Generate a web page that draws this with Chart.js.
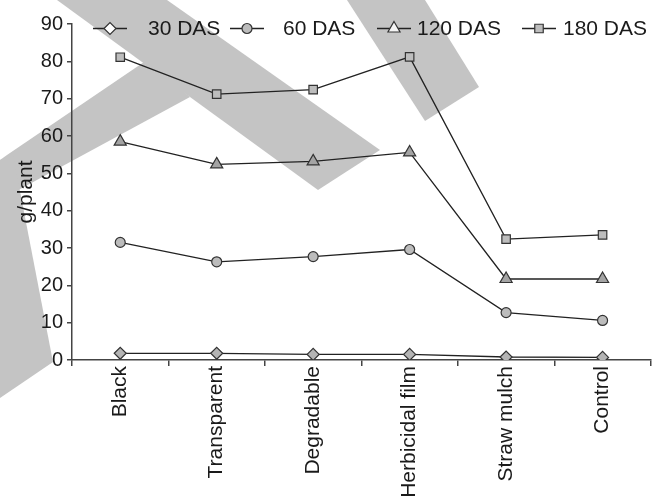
<!DOCTYPE html>
<html>
<head>
<meta charset="utf-8">
<script src="https://cdn.jsdelivr.net/npm/chart.js@4/dist/chart.umd.min.js"></script>
<style>
  html, body { margin: 0; padding: 0; background: #fff; }
  canvas { display: block; }
</style>
</head>
<body>
<canvas id="chart" width="659" height="502"></canvas>
<script>
// ── Data ─────────────────────────────────────────────────────────
const categories = ["Black", "Transparent", "Degradable", "Herbicidal film", "Straw mulch", "Control"];
const seriesNames = ["30 DAS", "60 DAS", "120 DAS", "180 DAS"];
const das30  = [1.8, 1.8, 1.5, 1.5, 0.8, 0.7];
const das60  = [31.5, 26.3, 27.7, 29.6, 12.7, 10.6];
const das120 = [58.5, 52.4, 53.2, 55.6, 21.7, 21.7];
const das180 = [81.1, 71.2, 72.4, 81.2, 32.4, 33.5];
const yTicks = [0, 10, 20, 30, 40, 50, 60, 70, 80, 90];

// ── Styles ───────────────────────────────────────────────────────
const LINE_COLOR = "#222";
const AXIS_COLOR = "#444";
const TEXT_COLOR = "#1a1a1a";
const BAND_COLOR = "#c4c4c4";
const FONT = "Liberation Sans, Arial, sans-serif";

// legendFill: the key markers are drawn lighter than the data markers
const markers = [
    { style: "rectRot",  radius: 6, fill: "#b4b4b4", legendFill: "#fff" },
    { style: "circle",   radius: 5, fill: "#bcbcbc", legendFill: "#bcbcbc" },
    { style: "triangle", radius: 7, fill: "#a4a4a4", legendFill: "#f4f4f4" },
    { style: "rect",     radius: 6, fill: "#bdbdbd", legendFill: "#bdbdbd" },
];

function makeDataset(i, values) {
    const m = markers[i];
    return {
        label: seriesNames[i],
        data: values,
        borderColor: LINE_COLOR,
        borderWidth: 1.3,
        pointStyle: m.style,
        pointRadius: m.radius,
        pointBackgroundColor: m.fill,
        pointBorderColor: "#333",
        pointBorderWidth: 1.2,
        tension: 0,
        fill: false,
    };
}

// ── Gray background bands (decoration) ───────────────────────────
const bands = [
    [[57, 0], [167, 0], [380, 150], [318, 190], [190, 97]],
    [[147, 60], [190, 97], [0, 200], [0, 160], [7, 155]],
    [[0, 160], [13, 155], [53, 362], [0, 398]],
    [[347, 0], [425, 0], [479, 87], [425, 121]],
];

const bandsPlugin = {
    id: "bands",
    beforeDraw(chart) {
        const ctx = chart.ctx;
        ctx.save();
        ctx.fillStyle = "#fff";
        ctx.fillRect(0, 0, chart.width, chart.height);
        ctx.fillStyle = BAND_COLOR;
        bands.forEach(poly => {
            ctx.beginPath();
            poly.forEach(([x, y], k) => k ? ctx.lineTo(x, y) : ctx.moveTo(x, y));
            ctx.closePath();
            ctx.fill();
        });
        ctx.restore();
    }
};

// ── Legend drawn inside plot, Excel-style (line + marker) ─────────
function drawMarker(ctx, style, r, x, y) {
    ctx.beginPath();
    if (style === "circle") {
        ctx.arc(x, y, r, 0, Math.PI * 2);
    } else if (style === "rect") {
        const s = r * Math.SQRT1_2;
        ctx.rect(x - s, y - s, 2 * s, 2 * s);
    } else if (style === "rectRot") {
        ctx.moveTo(x - r, y); ctx.lineTo(x, y - r);
        ctx.lineTo(x + r, y); ctx.lineTo(x, y + r);
        ctx.closePath();
    } else if (style === "triangle") {
        const w = r * Math.sin(Math.PI / 3);
        ctx.moveTo(x, y - r); ctx.lineTo(x + w, y + r / 2);
        ctx.lineTo(x - w, y + r / 2);
        ctx.closePath();
    }
    ctx.fill();
    ctx.stroke();
}

const legendPlugin = {
    id: "excelLegend",
    afterDraw(chart) {
        const ctx = chart.ctx;
        const lineStart = [93, 230, 377, 522];
        const textStart = [148, 283, 417, 563];
        const y = 28.5;
        ctx.save();
        ctx.font = "21px " + FONT;
        ctx.textBaseline = "middle";
        chart.data.datasets.forEach((ds, i) => {
            const x0 = lineStart[i], x1 = x0 + 34;
            ctx.strokeStyle = LINE_COLOR;
            ctx.lineWidth = 1.3;
            ctx.beginPath();
            ctx.moveTo(x0, y); ctx.lineTo(x1, y);
            ctx.stroke();
            ctx.fillStyle = markers[i].legendFill;
            ctx.strokeStyle = "#333";
            ctx.lineWidth = 1.2;
            drawMarker(ctx, markers[i].style, markers[i].radius, (x0 + x1) / 2, y);
            ctx.fillStyle = TEXT_COLOR;
            ctx.fillText(ds.label, textStart[i], y + 1);
        });
        ctx.restore();
    }
};

// ── Chart ────────────────────────────────────────────────────────
new Chart(document.getElementById("chart").getContext("2d"), {
    type: "line",
    data: {
        labels: categories,
        datasets: [
            makeDataset(0, das30),
            makeDataset(1, das60),
            makeDataset(2, das120),
            makeDataset(3, das180),
        ]
    },
    options: {
        responsive: false,
        animation: false,
        layout: { padding: { top: 24, right: 5, left: 0, bottom: 0 } },
        plugins: {
            legend: { display: false },
            tooltip: { enabled: false },
        },
        scales: {
            x: {
                offset: true,
                grid: {
                    offset: true,
                    drawOnChartArea: false,
                    tickLength: 6,
                    color: AXIS_COLOR,
                    lineWidth: 1.5,
                },
                border: { color: AXIS_COLOR, width: 1.5 },
                ticks: {
                    minRotation: 90,
                    maxRotation: 90,
                    autoSkip: false,
                    padding: 0,
                    color: TEXT_COLOR,
                    font: { family: FONT, size: 21 },
                },
                afterFit: s => { s.height = 142; },
            },
            y: {
                min: 0,
                max: 90,
                afterBuildTicks: s => { s.ticks = yTicks.map(v => ({ value: v })); },
                grid: {
                    drawOnChartArea: false,
                    tickLength: 5,
                    color: AXIS_COLOR,
                    lineWidth: 1.5,
                },
                border: { color: AXIS_COLOR, width: 1.5 },
                ticks: {
                    padding: 4,
                    color: TEXT_COLOR,
                    font: { family: FONT, size: 20 },
                },
                title: {
                    display: true,
                    text: "g/plant",
                    color: TEXT_COLOR,
                    font: { family: FONT, size: 21 },
                    padding: { top: 14, bottom: 0 },
                },
                afterFit: s => { s.width = 72; },
            }
        }
    },
    plugins: [bandsPlugin, legendPlugin]
});
</script>
</body>
</html>
